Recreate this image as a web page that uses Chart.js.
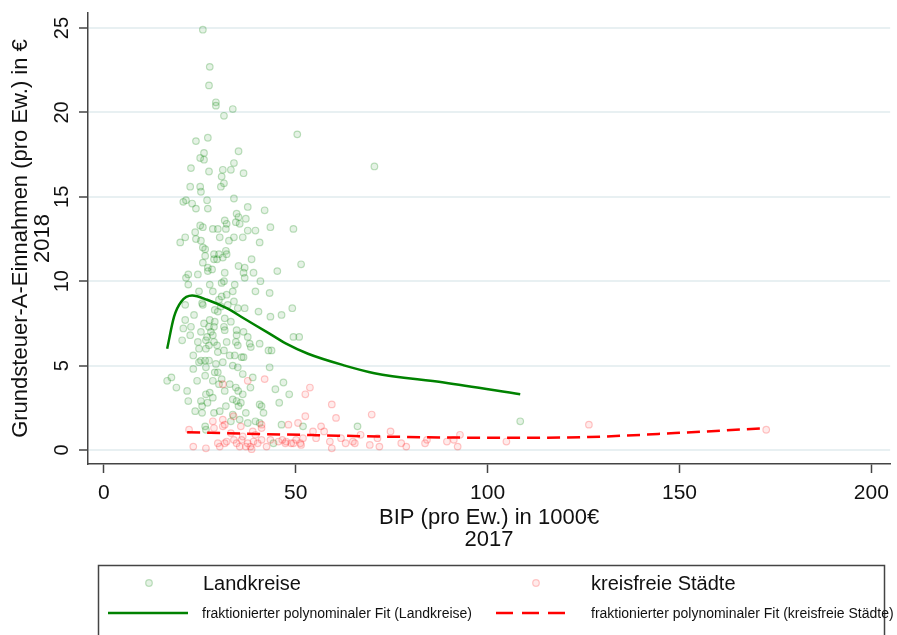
<!DOCTYPE html>
<html>
<head>
<meta charset="utf-8">
<script src="https://cdn.jsdelivr.net/npm/chart.js@4.4.1/dist/chart.umd.min.js"></script>
<style>
  html, body { margin: 0; padding: 0; background: #fff; }
</style>
</head>
<body>
<canvas id="Grafico_Streu" width="897" height="635"></canvas>
<script>
// Landkreise (BIP in 1000€, Grundsteuer A in €)
const landX = [25.8,27.6,27.4,29.2,29.2,33.6,31.3,50.4,70.5,24.0,27.1,26.1,25.1,26.1,35.1,33.9,31.0,22.7,27.4,33.1,
  36.4,30.7,31.3,30.5,22.5,25.1,25.3,21.4,20.7,23.0,26.9,33.9,24.0,27.1,37.5,41.9,34.6,35.1,31.5,32.0,
  34.4,37.0,35.4,25.1,25.8,23.8,28.4,29.7,31.8,37.5,39.5,43.4,49.4,21.2,30.2,33.9,36.2,19.9,24.0,25.3,
  32.6,40.6,25.8,26.4,28.7,30.0,31.0,31.8,32.0,26.4,28.7,29.5,25.8,38.5,27.1,27.1,28.2,31.5,35.1,36.7,
  36.4,36.7,39.0,45.2,51.4,22.0,21.4,24.5,22.0,31.3,30.7,27.6,40.8,34.1,24.8,28.4,33.6,32.0,39.5,43.2,
  30.7,30.0,33.9,21.2,25.6,25.8,32.3,30.5,34.9,36.7,28.9,29.7,40.3,43.4,46.3,49.1,23.5,21.2,27.6,28.9,
  31.5,33.1,26.1,27.4,31.3,22.7,28.7,20.7,25.3,27.9,34.6,31.5,36.4,22.5,28.4,26.9,34.6,37.5,49.4,50.9,
  20.4,24.5,26.6,28.7,32.0,34.4,38.0,40.6,27.4,29.5,34.9,38.3,42.9,43.7,24.8,26.6,23.3,29.7,31.3,32.8,
  34.1,35.9,36.4,25.3,26.4,27.4,31.0,29.2,24.8,23.3,26.6,28.9,29.7,33.6,34.9,36.2,43.2,26.4,16.5,17.6,
  18.9,24.3,28.4,30.7,38.8,30.0,32.8,38.2,34.4,21.7,27.6,31.5,35.0,44.7,46.8,26.6,28.4,36.2,48.3,22.0,
  25.3,27.0,33.6,34.6,35.7,40.6,41.1,45.7,25.6,31.8,35.1,23.8,25.6,28.7,30.2,37.0,41.6,33.6,33.1,35.4,
  37.5,39.5,40.6,46.3,26.4,26.6,44.2,51.9,66.1,108.5];
const landY = [24.9,22.7,21.6,20.6,20.4,20.2,19.8,18.7,16.8,18.3,18.5,17.6,17.3,17.2,17.7,17.0,16.6,16.7,16.5,16.6,
  16.4,16.2,15.8,15.6,15.6,15.6,15.3,14.8,14.7,14.6,14.8,14.9,14.3,14.3,14.4,14.2,14.0,13.8,13.6,13.4,
  13.5,13.7,13.4,13.3,13.2,12.9,13.1,13.1,13.1,13.0,13.0,13.2,13.1,12.6,12.6,12.6,12.6,12.3,12.5,12.4,
  12.4,12.3,12.0,11.9,11.6,11.6,11.4,11.8,11.6,11.5,11.3,11.3,11.1,11.3,10.8,10.6,10.7,10.5,10.9,10.8,
  10.5,10.2,10.5,10.6,11.0,10.4,10.2,10.4,9.8,10.0,9.9,9.8,10.0,9.8,9.4,9.4,9.4,9.2,9.4,9.3,
  9.1,8.9,8.8,8.6,8.7,8.6,8.6,8.5,8.4,8.4,8.3,8.2,8.2,7.9,8.0,8.4,8.0,7.7,7.7,7.6,
  7.8,7.6,7.5,7.3,7.3,7.3,7.3,7.2,7.0,7.0,7.1,7.1,7.0,6.8,6.8,6.7,6.8,6.7,6.7,6.7,
  6.5,6.4,6.5,6.4,6.4,6.4,6.3,6.3,6.2,6.2,6.2,6.1,5.9,5.9,6.0,6.0,5.6,5.8,5.9,5.6,
  5.6,5.5,5.5,5.3,5.3,5.3,5.2,5.1,5.2,4.8,4.9,4.6,4.6,5.0,4.9,4.5,4.9,4.4,4.1,4.3,
  3.7,4.1,4.1,4.2,4.3,3.9,3.9,3.7,3.7,3.5,3.4,3.5,3.5,3.6,4.0,3.3,3.1,3.3,3.3,2.9,
  2.9,2.8,3.0,2.9,2.8,2.7,2.6,2.8,2.6,2.6,2.6,2.3,2.2,2.2,2.3,2.2,2.2,2.1,1.7,1.8,
  1.6,1.7,1.6,1.5,1.4,1.2,0.4,1.4,1.4,1.7];

// kreisfreie Städte
const stadtX = [31.0,37.5,41.9,53.7,52.5,59.4,60.5,52.5,69.8,28.4,31.0,31.5,35.7,41.1,41.1,48.1,50.6,22.2,28.7,31.0,
  38.8,33.8,23.3,26.6,29.7,30.2,31.5,32.0,33.9,34.6,35.4,35.9,37.0,37.5,38.2,38.5,39.0,40.1,41.1,42.4,
  43.4,45.5,46.5,47.5,48.8,50.1,51.2,36.2,39.5,33.1,56.6,57.4,54.5,66.9,74.7,71.3,69.3,71.8,59.4,58.9,
  61.8,63.0,64.9,65.4,55.3,47.3,49.4,51.9,51.4,126.4,172.6,84.2,83.7,89.4,91.2,92.8,92.2,77.5,78.8,104.9];
const stadtY = [3.9,4.1,4.2,3.7,3.3,2.7,1.9,2.0,2.1,1.7,1.8,1.5,1.4,1.3,1.5,1.5,1.6,1.2,1.3,1.4,
  1.1,2.0,0.2,0.1,0.4,0.2,0.4,0.5,0.6,0.4,0.2,0.6,0.2,0.4,0.2,0.05,0.5,0.4,0.6,0.2,
  0.6,0.5,0.6,0.5,0.4,0.6,0.4,0.8,0.9,1.0,1.4,1.1,1.1,0.9,1.1,0.7,0.3,0.2,0.1,0.5,
  0.7,0.4,0.5,0.4,0.7,0.4,0.4,0.7,0.3,1.5,1.2,0.6,0.4,0.5,0.6,0.9,0.2,0.4,0.2,0.5];

// fraktionierte polynomiale Fits
const fitLandX = [16.5,18.3,20.2,23.0,26.9,32.0,37.2,42.4,47.5,53.2,62.8,70.5,88.6,108.5];
const fitLandY = [6.0,7.9,8.8,9.15,8.9,8.4,7.7,7.0,6.3,5.7,5.0,4.55,4.0,3.3];
const fitStadtX = [21.7,40.0,55.0,71.3,90.0,105.7,126.4,148.8,172.6];
const fitStadtY = [1.05,0.95,0.88,0.8,0.74,0.72,0.77,1.0,1.3];

const xTicks = [0, 50, 100, 150, 200];
const yTicks = [0, 5, 10, 15, 20, 25];

const schrift = "'Liberation Sans', Arial, sans-serif";
const gruen = 'rgb(0,130,0)';
const rot = 'rgb(255,0,0)';

function paare(xs, ys) {
  return xs.map((x, i) => ({ x: x, y: ys[i] }));
}

// Y-Achsenbeschriftung gedreht (wie Stata)
const yBeschriftung = {
  id: 'yBeschriftung',
  afterDraw(chart) {
    const ctx = chart.ctx;
    const s = chart.scales.y;
    ctx.save();
    ctx.font = '20px ' + schrift;
    ctx.fillStyle = '#111';
    ctx.textAlign = 'center';
    ctx.textBaseline = 'middle';
    yTicks.forEach(v => {
      ctx.save();
      ctx.translate(s.right - 26, s.getPixelForValue(v));
      ctx.rotate(-Math.PI / 2);
      ctx.fillText(String(v), 0, 0);
      ctx.restore();
    });
    ctx.restore();
  }
};

// Legende im Kasten unten
const legendeKasten = {
  id: 'legendeKasten',
  afterDraw(chart) {
    const ctx = chart.ctx;
    ctx.save();
    ctx.strokeStyle = '#444';
    ctx.lineWidth = 1.5;
    ctx.strokeRect(98.5, 565.5, 786, 90);

    const punkt = (x, y, fill, rand) => {
      ctx.beginPath();
      ctx.arc(x, y, 3.3, 0, Math.PI * 2);
      ctx.fillStyle = fill;
      ctx.fill();
      ctx.strokeStyle = rand;
      ctx.lineWidth = 1.2;
      ctx.stroke();
    };
    punkt(149, 583, 'rgba(0,130,0,0.1)', 'rgba(0,130,0,0.25)');
    punkt(536, 583, 'rgba(255,0,0,0.08)', 'rgba(255,0,0,0.22)');

    ctx.fillStyle = '#111';
    ctx.textBaseline = 'middle';
    ctx.textAlign = 'left';
    ctx.font = '20px ' + schrift;
    ctx.fillText('Landkreise', 203, 584);
    ctx.fillText('kreisfreie Städte', 591, 584);

    ctx.lineWidth = 2.5;
    ctx.strokeStyle = gruen;
    ctx.beginPath(); ctx.moveTo(108, 613); ctx.lineTo(188, 613); ctx.stroke();
    ctx.strokeStyle = rot;
    ctx.setLineDash([17, 9]);
    ctx.beginPath(); ctx.moveTo(496, 613); ctx.lineTo(566, 613); ctx.stroke();
    ctx.setLineDash([]);

    ctx.fillStyle = '#111';
    ctx.font = '14px ' + schrift;
    ctx.fillText('fraktionierter polynominaler Fit (Landkreise)', 202, 614);
    ctx.fillText('fraktionierter polynominaler Fit (kreisfreie Städte)', 591, 614);
    ctx.restore();
  }
};

document.addEventListener("DOMContentLoaded", () => {
  Chart.defaults.font.family = schrift;
  Chart.defaults.color = '#111';

  new Chart(document.getElementById('Grafico_Streu').getContext('2d'), {
    type: 'scatter',
    data: {
      datasets: [
        {
          label: 'Landkreise',
          data: paare(landX, landY),
          backgroundColor: 'rgba(0,130,0,0.1)',
          borderColor: 'rgba(0,130,0,0.25)',
          borderWidth: 1.2,
          pointRadius: 3.3,
          order: 3
        },
        {
          label: 'kreisfreie Städte',
          data: paare(stadtX, stadtY),
          backgroundColor: 'rgba(255,0,0,0.08)',
          borderColor: 'rgba(255,0,0,0.22)',
          borderWidth: 1.2,
          pointRadius: 3.3,
          order: 2
        },
        {
          label: 'fraktionierter polynominaler Fit (Landkreise)',
          data: paare(fitLandX, fitLandY),
          showLine: true,
          borderColor: gruen,
          borderWidth: 2.5,
          pointRadius: 0,
          cubicInterpolationMode: 'monotone',
          order: 1
        },
        {
          label: 'fraktionierter polynominaler Fit (kreisfreie Städte)',
          data: paare(fitStadtX, fitStadtY),
          showLine: true,
          borderColor: rot,
          borderWidth: 2.5,
          borderDash: [13, 7],
          pointRadius: 0,
          cubicInterpolationMode: 'monotone',
          order: 0
        }
      ]
    },
    options: {
      responsive: false,
      animation: false,
      layout: { padding: { top: 13, left: 0, right: 0, bottom: 0 } },
      plugins: {
        legend: { display: false },
        tooltip: { enabled: false }
      },
      scales: {
        x: {
          type: 'linear',
          min: -4.13,
          max: 204.9,
          afterBuildTicks: (axis) => { axis.ticks = xTicks.map(v => ({ value: v })); },
          afterFit: (scale) => { scale.height = 171; },
          grid: {
            display: true,
            drawOnChartArea: false,
            drawTicks: true,
            tickLength: 9,
            tickColor: '#444',
            tickWidth: 1.5
          },
          border: { display: true, color: '#444', width: 1.5 },
          ticks: {
            font: { size: 21 },
            color: '#111',
            padding: 8,
            maxRotation: 0
          },
          title: {
            display: true,
            text: ['BIP (pro Ew.) in 1000€', '2017'],
            font: { size: 22, lineHeight: 1 },
            color: '#111',
            padding: { top: 0, bottom: 84 }
          }
        },
        y: {
          type: 'linear',
          min: -0.83,
          max: 25.89,
          afterBuildTicks: (axis) => { axis.ticks = yTicks.map(v => ({ value: v })); },
          afterFit: (scale) => { scale.width = 88; },
          grid: {
            display: true,
            color: '#e8f0f2',
            lineWidth: 2,
            drawTicks: true,
            tickLength: 9,
            tickColor: '#444',
            tickWidth: 1.5
          },
          border: { display: true, color: '#444', width: 1.5 },
          ticks: { display: false },
          title: {
            display: true,
            text: ['Grundsteuer-A-Einnahmen (pro Ew.) in €', '2018'],
            font: { size: 22, lineHeight: 1 },
            color: '#111',
            padding: { top: 10, bottom: 0 }
          }
        }
      }
    },
    plugins: [yBeschriftung, legendeKasten]
  });
});
</script>
</body>
</html>
